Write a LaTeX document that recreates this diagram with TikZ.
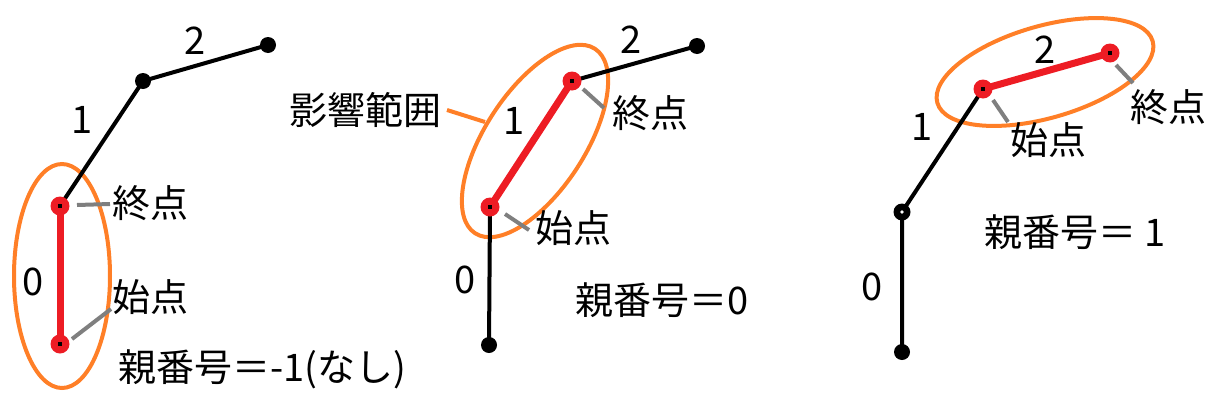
\documentclass[tikz,border=0pt]{standalone}
\usepackage{fontspec}
\setmainfont{Noto Sans CJK JP}
\definecolor{jred}{RGB}{237,28,36}
\definecolor{jorange}{RGB}{255,127,39}
\definecolor{jgray}{RGB}{127,127,127}
\tikzset{
  bone/.style={line width=4pt,black},
  redbone/.style={line width=7pt,jred},
  bdot/.style={circle,fill=black,inner sep=0pt,minimum size=16pt},
  rdot/.style={circle,fill=jred,inner sep=0pt,minimum size=19pt,
     path picture={\fill[black] ([xshift=-1.6pt,yshift=-1.6pt]path picture bounding box.center) rectangle ++(3.2pt,3.2pt);}},
  ringdot/.style={circle,fill=black,inner sep=0pt,minimum size=17pt,
     path picture={\fill[white] (path picture bounding box.center) circle (1.8pt);}},
  lbl/.style={font=\fontsize{38pt}{40pt}\selectfont,inner sep=0pt,anchor=center},
  leader/.style={line width=4pt,jgray},
  orangeline/.style={line width=4pt,jorange},
}
\begin{document}
\begin{tikzpicture}[x=1pt,y=-1pt]
\useasboundingbox (0,0) rectangle (1218,402);
% ---------- Panel 1 ----------
\draw[orangeline] (62,276) ellipse [x radius=48pt, y radius=112pt];
\node[bdot] (a3) at (268,45) {};
\node[bdot] (a2) at (143,81) {};
\coordinate (a1c) at (60,206);
\coordinate (a0c) at (60,344);
\draw[bone] (a1c) -- (a2.center) -- (a3.center);
\draw[redbone] (a0c) -- (a1c);
\node[rdot] (a1) at (a1c) {};
\node[rdot] (a0) at (a0c) {};
\node[lbl] (a0t) at (33,282) {0};
\node[lbl] (a1t) at (82,120) {1};
\node[lbl] (a2t) at (195,41) {2};
\node[lbl] (aend) at (150,203) {終点};
\node[lbl] (astart) at (150,297) {始点};
\node[lbl] (apar) at (262,369) {親番号＝-1(なし)};
\coordinate (ae1) at (77,205);
\coordinate (ae2) at (110,204);
\coordinate (as1) at (72,339);
\coordinate (as2) at (111,309);
\draw[leader] (ae1) -- (ae2);
\draw[leader] (as1) -- (as2);
% ---------- Panel 2 ----------
\draw[orangeline,rotate around={57:(535,141)}] (535,141) ellipse [x radius=110pt, y radius=50pt];
\node[bdot] (b0) at (489,345) {};
\node[bdot] (b3) at (697,46) {};
\coordinate (b1c) at (490,207);
\coordinate (b2c) at (572,81);
\draw[bone] (b0.center) -- (b1c);
\draw[bone] (b2c) -- (b3.center);
\draw[redbone] (b1c) -- (b2c);
\node[rdot] (b1) at (b1c) {};
\node[rdot] (b2) at (b2c) {};
\node[lbl] (b0t) at (465,280) {0};
\node[lbl] (b1t) at (514,121) {1};
\node[lbl] (b2t) at (631,40) {2};
\node[lbl] (brange) at (365,110) {影響範囲};
\node[lbl] (bend) at (650,113) {終点};
\node[lbl] (bstart) at (573,228) {始点};
\node[lbl] (bpar) at (662,300) {親番号＝0};
\coordinate (br1) at (447,110);
\coordinate (br2) at (485,122);
\draw[orangeline] (br1) -- (br2);
\coordinate (be1) at (583,89);
\coordinate (be2) at (604,108);
\draw[leader] (be1) -- (be2);
\coordinate (bs1) at (505,214);
\coordinate (bs2) at (529,230);
\draw[leader] (bs1) -- (bs2);
% ---------- Panel 3 ----------
\draw[orangeline,rotate around={16:(1045,72)}] (1045,72) ellipse [x radius=112pt, y radius=46pt];
\node[bdot] (c0) at (902,352) {};
\coordinate (c1c) at (902,212);
\coordinate (c2c) at (983,89);
\coordinate (c3c) at (1110,53);
\draw[bone] (c0.center) -- (c1c) -- (c2c);
\draw[redbone] (c2c) -- (c3c);
\node[ringdot] (c1) at (c1c) {};
\node[rdot] (c2) at (c2c) {};
\node[rdot] (c3) at (c3c) {};
\node[lbl] (c0t) at (872,287) {0};
\node[lbl] (c1t) at (922,127) {1};
\node[lbl] (c2t) at (1045,50) {2};
\node[lbl] (cstart) at (1048,140) {始点};
\node[lbl] (cend) at (1168,107) {終点};
\node[lbl] (cpar) at (1075,232) {親番号＝ 1};
\coordinate (cs1) at (993,100);
\coordinate (cs2) at (1008,122);
\draw[leader] (cs1) -- (cs2);
\coordinate (ce1) at (1116,65);
\coordinate (ce2) at (1133,83);
\draw[leader] (ce1) -- (ce2);
\end{tikzpicture}
\end{document}
